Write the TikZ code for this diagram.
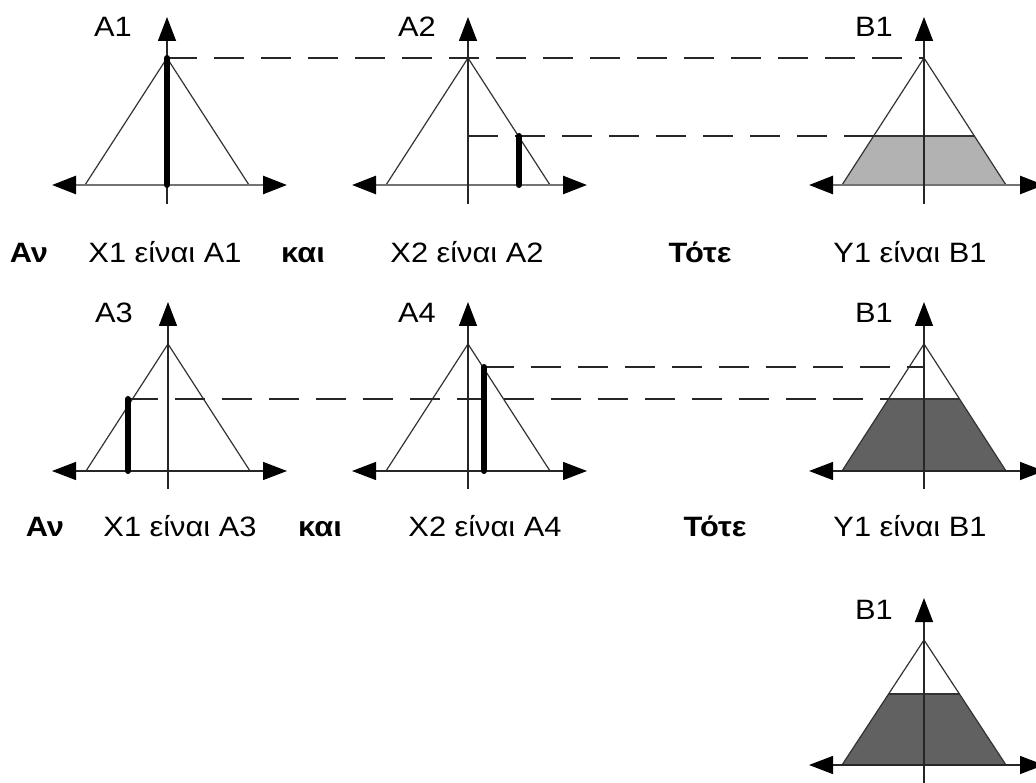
\documentclass[tikz,border=0pt]{standalone}
\usepackage{fontspec}
\setmainfont{Liberation Sans}[FakeStretch=1.1]
\usepackage{tikz}
\usetikzlibrary{arrows.meta}

\begin{document}
\begin{tikzpicture}[x=1pt,y=-1pt,>={Triangle[length=24pt,width=18pt,black]},line join=round,
  axis/.style={line width=1.4pt,black!85},
  tri/.style={line width=1.2pt,black!80},
  bar/.style={line width=6pt,line cap=round},
  guide/.style={line width=1.5pt,black!85,dash pattern=on 30pt off 17pt},
  lbl/.style={inner sep=0pt,font=\fontsize{28}{32}\selectfont},
  word/.style={lbl,anchor=base},
  kw/.style={word,font=\fontsize{28}{32}\selectfont\bfseries}]
  \useasboundingbox (0,0) rectangle (1036,783);
  % first rule: A1, A2 -> B1
  \coordinate (TA1) at (167.000,58.000);
  \coordinate (TA2) at (468.000,58.000);
  \coordinate (TB1) at (924.000,58.000);
  \coordinate (CA2) at (468.000,136.000);
  \coordinate (BA2) at (519.000,136.000);
  \coordinate (QL1) at (873.600,136.000);
  \coordinate (QR1) at (974.400,136.000);
  \fill[black!30] (QL1) -- (QR1) -- (1006.000,185.000) -- (842.000,185.000) -- cycle;
  \draw[tri] (85.000,185.000) -- (TA1) -- (249.000,185.000);
  \draw[tri] (386.000,185.000) -- (TA2) -- (550.000,185.000);
  \draw[tri] (842.000,185.000) -- (TB1) -- (1006.000,185.000);
  \draw[tri] (QL1) -- (QR1);
  \draw[axis,black!55,line width=2.6pt,<->] (52.000,185.000) -- (287.000,185.000);
  \draw[axis,black!55,line width=2.6pt,<->] (352.000,185.000) -- (587.000,185.000);
  \draw[axis,black!55,line width=2.6pt,<->] (809.000,185.000) -- (1044.000,185.000);
  \draw[axis,->] (167.000,204.000) -- (167.000,17.000);
  \draw[axis,->] (468.000,204.000) -- (468.000,17.000);
  \draw[axis,->] (924.000,204.000) -- (924.000,17.000);
  \draw[guide] (TA1) -- (TB1);
  \draw[guide] (CA2) -- (QL1);
  \draw[bar] (TA1) -- (167.000,185.000);
  \draw[bar] (BA2) -- (519.000,185.000);
  \node[lbl] (nA1) at (113.000,27.000) {A1};
  \node[lbl] (nA2) at (417.000,27.000) {A2};
  \node[lbl] (nB1) at (874.000,27.000) {B1};
  \node[kw] (if1) at (29.000,263.000) {Αν};
  \node[word] (x11) at (165.000,263.000) {X1 είναι A1};
  \node[kw] (and1) at (303.000,263.000) {και};
  \node[word] (x21) at (467.000,263.000) {X2 είναι A2};
  \node[kw] (then1) at (700.000,263.000) {Τότε};
  \node[word] (y11) at (910.000,263.000) {Y1 είναι B1};
  % second rule: A3, A4 -> B1
  \coordinate (TA3) at (168.000,344.000);
  \coordinate (TA4) at (468.000,344.000);
  \coordinate (TB2) at (924.000,344.000);
  \coordinate (BA3) at (128.000,399.000);
  \coordinate (BA4) at (484.000,367.000);
  \coordinate (CB2) at (924.000,367.000);
  \coordinate (QL2) at (888.500,399.000);
  \coordinate (QR2) at (959.500,399.000);
  \fill[black!62] (QL2) -- (QR2) -- (1006.000,471.000) -- (842.000,471.000) -- cycle;
  \draw[tri] (86.000,471.000) -- (TA3) -- (250.000,471.000);
  \draw[tri] (386.000,471.000) -- (TA4) -- (550.000,471.000);
  \draw[tri] (842.000,471.000) -- (TB2) -- (1006.000,471.000);
  \draw[tri] (QL2) -- (QR2);
  \draw[axis,<->] (52.000,471.000) -- (287.000,471.000);
  \draw[axis,<->] (352.000,471.000) -- (587.000,471.000);
  \draw[axis,<->] (809.000,471.000) -- (1044.000,471.000);
  \draw[axis,->] (168.000,489.000) -- (168.000,302.000);
  \draw[axis,->] (468.000,489.000) -- (468.000,302.000);
  \draw[axis,->] (924.000,489.000) -- (924.000,302.000);
  \draw[guide] (BA3) -- (QL2);
  \draw[guide] (BA4) -- (CB2);
  \draw[bar] (BA3) -- (128.000,471.000);
  \draw[bar] (BA4) -- (484.000,471.000);
  \node[lbl] (nA3) at (114.000,313.000) {A3};
  \node[lbl] (nA4) at (417.000,313.000) {A4};
  \node[lbl] (nB2) at (874.000,313.000) {B1};
  \node[kw] (if2) at (45.000,536.000) {Αν};
  \node[word] (x12) at (180.000,536.000) {X1 είναι A3};
  \node[kw] (and2) at (320.000,536.000) {και};
  \node[word] (x22) at (485.000,536.000) {X2 είναι A4};
  \node[kw] (then2) at (715.000,536.000) {Τότε};
  \node[word] (y12) at (910.000,536.000) {Y1 είναι B1};
  % aggregated output B1
  \coordinate (TB3) at (924.000,640.000);
  \coordinate (QL3) at (888.500,694.000);
  \coordinate (QR3) at (959.500,694.000);
  \fill[black!62] (QL3) -- (QR3) -- (1006.000,765.000) -- (842.000,765.000) -- cycle;
  \draw[tri] (842.000,765.000) -- (TB3) -- (1006.000,765.000);
  \draw[tri] (QL3) -- (QR3);
  \draw[axis,<->] (809.000,765.000) -- (1044.000,765.000);
  \draw[axis,->] (924.000,790.000) -- (924.000,598.000);
  \node[lbl] (nB3) at (874.000,610.000) {B1};
\end{tikzpicture}
\end{document}
